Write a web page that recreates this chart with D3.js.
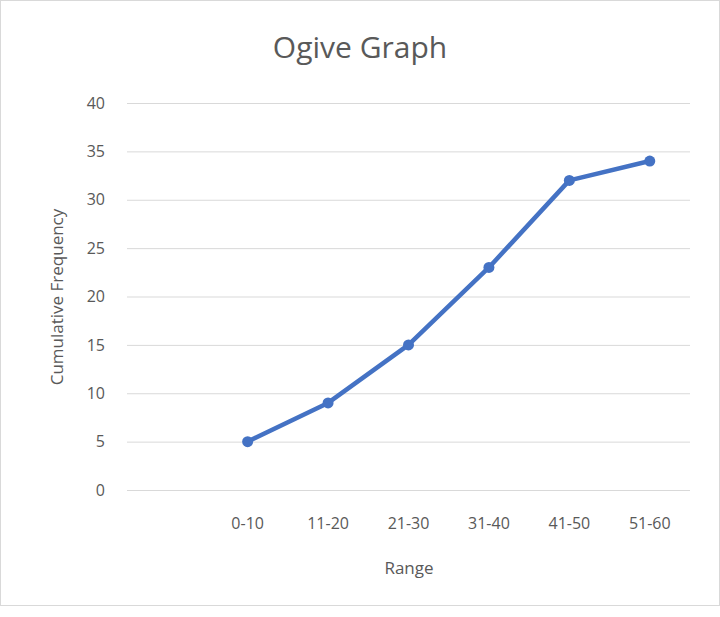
<!DOCTYPE html>
<html>
<head>
<meta charset="utf-8">
<script src="https://cdn.jsdelivr.net/npm/d3@7"></script>
<style>
  body { margin: 0; background: #fff; }
  svg, svg text { font-family: "Open Sans", "Noto Sans", sans-serif; }
</style>
</head>
<body>
<svg id="chart" width="720" height="617"></svg>
<script>
const categories = ['', '0-10', '11-20', '21-30', '31-40', '41-50', '51-60'];
const cumulative = [null, 5, 9, 15, 23, 32, 34];
const yTicks = [0, 5, 10, 15, 20, 25, 30, 35, 40];

const svg = d3.select('#chart');
const color = '#4472c4';
const font = '"Open Sans", "Noto Sans", sans-serif';

const x = d3.scaleBand().domain(categories).range([127, 690]);
const y = d3.scaleLinear().domain([0, 40]).range([490, 103]);

svg.append('rect').attr('x', 0.5).attr('y', 0.5).attr('width', 719).attr('height', 605)
  .attr('fill', 'none').attr('stroke', '#d9d9d9');

svg.append('text').attr('x', 360).attr('y', 58).attr('text-anchor', 'middle')
  .attr('font-size', 30).attr('fill', '#595959').text('Ogive Graph');

const yAxis = d3.axisLeft(y).tickValues(yTicks).tickSize(-(690 - 127)).tickPadding(22);
svg.append('g').attr('transform', 'translate(127,0)').call(yAxis)
  .attr('font-family', font)
  .call(g => g.select('.domain').remove())
  .call(g => g.selectAll('line').attr('stroke', '#d9d9d9'))
  .call(g => g.selectAll('text').attr('fill', '#595959').attr('font-size', 16));

const xAxis = d3.axisBottom(x).tickSize(0).tickPadding(28);
svg.append('g').attr('transform', 'translate(0,490)').call(xAxis)
  .attr('font-family', font)
  .call(g => g.select('.domain').remove())
  .call(g => g.selectAll('text').attr('fill', '#595959').attr('font-size', 16));

svg.append('text').attr('x', 409).attr('y', 574).attr('text-anchor', 'middle')
  .attr('font-size', 17).attr('fill', '#595959').text('Range');
svg.append('text').attr('transform', 'translate(63,297) rotate(-90)').attr('text-anchor', 'middle')
  .attr('font-size', 17).attr('fill', '#595959').text('Cumulative Frequency');

const pts = categories.map((c, i) => ({ c, v: cumulative[i] })).filter(d => d.v !== null);
const cx = d => x(d.c) + x.bandwidth() / 2;

svg.append('path').datum(pts)
  .attr('d', d3.line().x(cx).y(d => y(d.v)))
  .attr('fill', 'none').attr('stroke', color).attr('stroke-width', 4.5)
  .attr('stroke-linejoin', 'round');

svg.selectAll('circle.pt').data(pts).join('circle')
  .attr('cx', cx).attr('cy', d => y(d.v)).attr('r', 5.5).attr('fill', color);
</script>
</body>
</html>
